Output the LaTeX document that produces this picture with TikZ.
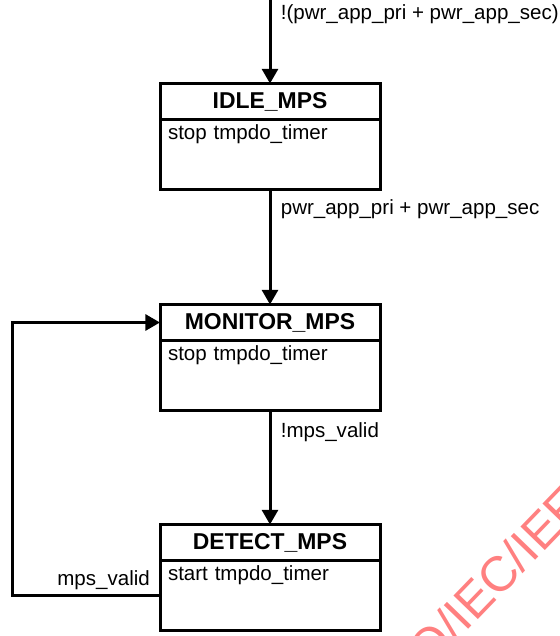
\documentclass[tikz,border=0pt]{standalone}
\usepackage{fontspec}
\setmainfont{Liberation Sans}
\usetikzlibrary{arrows.meta,positioning}
\definecolor{MarkRed}{RGB}{255,128,128}
\tikzset{
  stitle/.style={draw,line width=2.25pt,outer sep=0pt,inner sep=0pt,
    minimum width=165pt,minimum height=27pt,
    font=\fontsize{17.2}{20}\selectfont\bfseries},
  sbody/.style={draw,line width=2.25pt,outer sep=0pt,inner xsep=6pt,inner ysep=4pt,
    minimum width=165pt,minimum height=52.5pt,text width=153pt,align=left,
    text height=11pt,text depth=33.5pt,font=\fontsize{15.4}{18}\selectfont},
  trans/.style={-{Triangle[width=12pt,length=11pt]},line width=2.25pt},
  cond/.style={font=\fontsize{15.4}{18}\selectfont,inner sep=3pt}
}

\begin{document}
\begin{tikzpicture}[x=0.75pt,y=-0.75pt]
  \useasboundingbox (0,0) rectangle (560,636);
  % states: title box with the action box below
  \foreach \n/\t/\b/\y in {idle/IDLE\_MPS/stop tmpdo\_timer/101.5,
      monitor/MONITOR\_MPS/stop tmpdo\_timer/322.5,
      detect/DETECT\_MPS/start tmpdo\_timer/542.5}{
    \node[stitle] (\n) at (270,\y) {\t};
    \node[sbody,below=0pt of \n] (\n-b) {\b};
  }
  \coordinate (entry) at (270,0);
  % transitions
  \draw[trans] (entry) -- node[cond,pos=0.17,right=4pt] {!(pwr\_app\_pri + pwr\_app\_sec)} (idle.north);
  \draw[trans] (idle-b.south) -- node[cond,pos=0.17,right=4pt] {pwr\_app\_pri + pwr\_app\_sec} (monitor.north);
  \draw[trans] (monitor-b.south) -- node[cond,pos=0.19,right=4pt] {!mps\_valid} (detect.north);
  \draw[trans] (detect-b.west) -- node[cond,pos=0,anchor=south east,xshift=-3.5pt,yshift=0.5pt] {mps\_valid}
    ++(-148,0) |- (monitor.west);
  \node[text=MarkRed,rotate=46,font=\fontsize{37}{42}\selectfont] (mark) at (496,576) {O/IEC/IEE};
\end{tikzpicture}
\end{document}
